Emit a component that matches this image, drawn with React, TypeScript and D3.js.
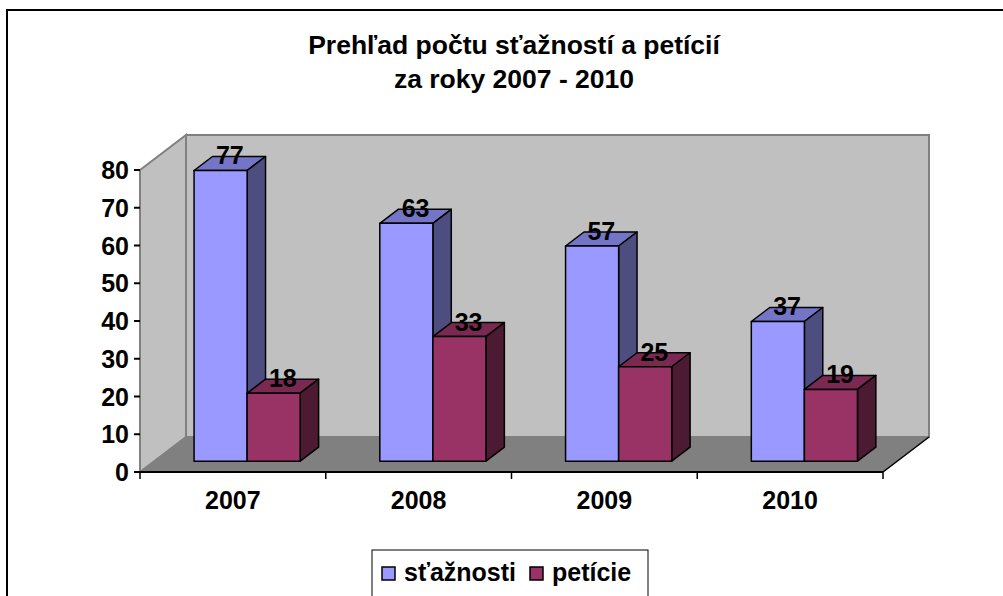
import * as d3 from "d3";

const years = ["2007", "2008", "2009", "2010"];
const series = ["sťažnosti", "petície"];
const staznosti = [77, 63, 57, 37];
const peticie = [18, 33, 25, 19];
const yTicks = [0, 10, 20, 30, 40, 50, 60, 70, 80];
const titleLines = ["Prehľad počtu sťažností a petícií", "za roky 2007 - 2010"];

const W = 1003;
const H = 596;
const font = "'Liberation Sans', Arial, sans-serif";

// 3d look: depth of the walls, bars sit in the middle band of it
const DX = 46;
const DY = -35;
const f0 = 0.31;
const f1 = 0.71;

const colors = {
  "sťažnosti": { front: "#9999ff", top: "#7575c8", side: "#4d4d80" },
  "petície": { front: "#993366", top: "#7a2952", side: "#4d1a33" },
};

export default function App() {
  const x0 = d3.scaleBand<string>().domain(years).range([140, 883]);
  const x1 = d3
    .scaleBand<string>()
    .domain(series)
    .range([0, x0.bandwidth()])
    .paddingInner(0)
    .paddingOuter(0.75);
  const y = d3.scaleLinear().domain([0, 80]).range([472, 170]);

  const [left, right] = x0.range();
  const y0 = y(0);
  const yTop = y(80);

  const bars = years.flatMap((yr, i) =>
    series.map((s, j) => ({ yr, s, v: j === 0 ? staznosti[i] : peticie[i] }))
  );

  const ax = DX * f0, ay = DY * f0;
  const bx = DX * f1, by = DY * f1;
  const pts = (p: number[][]) => p.map((q) => q.join(",")).join(" ");

  return (
    <svg
      width={W}
      height={H}
      style={{ position: "fixed", left: 0, top: 0, background: "#fff" }}
    >
      <rect x={7} y={10} width={1100} height={700} fill="#fff" stroke="#000" strokeWidth={2} />

      {titleLines.map((t, i) => (
        <text
          key={t}
          x={514}
          y={54 + i * 34}
          textAnchor="middle"
          fontFamily={font}
          fontWeight="bold"
          fontSize={26.5}
        >
          {t}
        </text>
      ))}

      {/* back wall */}
      <polygon
        points={pts([[left + DX, yTop + DY], [right + DX, yTop + DY], [right + DX, y0 + DY], [left + DX, y0 + DY]])}
        fill="#c0c0c0"
        stroke="#808080"
        strokeWidth={2}
      />
      {/* side wall */}
      <polygon
        points={pts([[left, yTop], [left + DX, yTop + DY], [left + DX, y0 + DY], [left, y0]])}
        fill="#c0c0c0"
        stroke="#808080"
        strokeWidth={2}
      />
      {/* floor */}
      <polygon
        points={pts([[left, y0], [right, y0], [right + DX, y0 + DY], [left + DX, y0 + DY]])}
        fill="#808080"
        stroke="#808080"
        strokeWidth={1}
      />
      <line x1={right} y1={y0} x2={right + DX} y2={y0 + DY} stroke="#000" strokeWidth={1.5} />
      <line x1={left} y1={y0} x2={right} y2={y0} stroke="#000" strokeWidth={2} />

      {/* y axis */}
      {yTicks.map((t) => (
        <g key={t}>
          <line x1={134} x2={140} y1={y(t)} y2={y(t)} stroke="#000" strokeWidth={2} />
          <text
            x={129}
            y={y(t)}
            dy="0.36em"
            textAnchor="end"
            fontFamily={font}
            fontWeight="bold"
            fontSize={25}
          >
            {t}
          </text>
        </g>
      ))}

      {/* x axis */}
      {years.map((yr) => (
        <text
          key={yr}
          x={(x0(yr) as number) + x0.bandwidth() / 2}
          y={509}
          textAnchor="middle"
          fontFamily={font}
          fontWeight="bold"
          fontSize={25}
        >
          {yr}
        </text>
      ))}
      {[...years.map((yr) => x0(yr) as number), right].map((tx, i) => (
        <line key={i} x1={tx} x2={tx} y1={y0} y2={y0 + 7} stroke="#000" strokeWidth={1.5} />
      ))}

      {/* bars */}
      {bars.map(({ yr, s, v }) => {
        const xl = (x0(yr) as number) + (x1(s) as number);
        const xr = xl + x1.bandwidth();
        const yt = y(v);
        const c = colors[s as keyof typeof colors];
        return (
          <g key={yr + s} stroke="#000" strokeWidth={1.5} strokeLinejoin="round">
            <polygon
              points={pts([[xl + ax, yt + ay], [xr + ax, yt + ay], [xr + bx, yt + by], [xl + bx, yt + by]])}
              fill={c.top}
            />
            <polygon
              points={pts([[xr + ax, yt + ay], [xr + bx, yt + by], [xr + bx, y0 + by], [xr + ax, y0 + ay]])}
              fill={c.side}
            />
            <rect x={xl + ax} y={yt + ay} width={xr - xl} height={y0 - yt} fill={c.front} />
          </g>
        );
      })}
      {bars.map(({ yr, s, v }) => {
        const xl = (x0(yr) as number) + (x1(s) as number);
        const cx = xl + x1.bandwidth() / 2 + (ax + bx) / 2;
        return (
          <text
            key={"l" + yr + s}
            x={cx}
            y={y(v) + ay - 6}
            textAnchor="middle"
            fontFamily={font}
            fontWeight="bold"
            fontSize={25}
          >
            {v}
          </text>
        );
      })}

      {/* legend */}
      <rect x={372} y={550} width={276} height={80} fill="#fff" stroke="#000" strokeWidth={1} />
      {series.map((s, i) => {
        const lx = i === 0 ? 382 : 530;
        return (
          <g key={s}>
            <rect
              x={lx}
              y={567}
              width={13}
              height={13}
              fill={colors[s as keyof typeof colors].front}
              stroke="#000"
              strokeWidth={1.5}
            />
            <text x={lx + 22} y={581} fontFamily={font} fontWeight="bold" fontSize={25}>
              {s}
            </text>
          </g>
        );
      })}
    </svg>
  );
}
